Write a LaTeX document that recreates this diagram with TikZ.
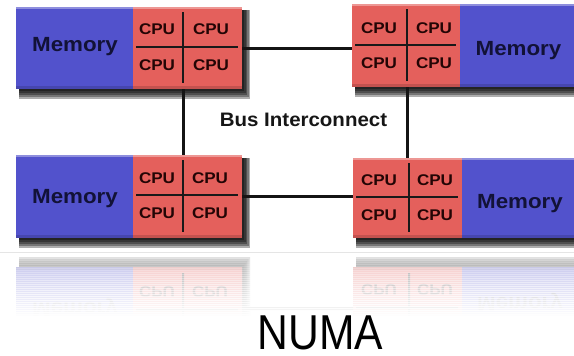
\documentclass[tikz,border=0pt]{standalone}
\usepackage{fontspec}
\setmainfont{Liberation Sans}
\usepackage{graphicx}
\usetikzlibrary{calc}
\definecolor{memblue}{RGB}{82,82,204}
\definecolor{cpured}{RGB}{228,96,92}
\definecolor{memtext}{RGB}{18,18,55}
\definecolor{cputext}{RGB}{35,5,5}
\definecolor{bustext}{RGB}{22,22,22}
\tikzset{
  memnode/.style={fill=memblue, draw=none, inner sep=0pt, outer sep=0pt, anchor=north west},
  cpunode/.style={fill=cpured, draw=none, inner sep=0pt, outer sep=0pt, anchor=north west},
  memtxt/.style={font=\bfseries\fontsize{20.5}{20.5}\selectfont, text=memtext, anchor=base, inner sep=0pt},
  cputxt/.style={font=\bfseries\fontsize{15.5}{15.5}\selectfont, text=cputext, anchor=center, inner sep=0pt},
  divline/.style={line width=2pt, draw=black!90},
  conn/.style={line width=3pt, draw=black!92},
}
\newcommand\memword{\scalebox{1.09}[1]{Memory}}
\newcommand\cpuw{\scalebox{1.1}[1]{CPU}}
\newcommand\shadowrect[4]{%
  \foreach \k in {0,...,4}{%
    \fill[black,opacity=0.32] ({#1+3},{#2+3}) rectangle ({#3+2+1.5*\k},{#4+2+2*\k});}}
\newcommand\bevel[2]{%
  \draw[white, opacity=0.35, line width=1.5pt] ($(#1.north west)+(0,0.75)$) -- ($(#2.north east)+(0,0.75)$);
  \fill[black, opacity=0.14] ($(#1.south west)+(0,-3)$) rectangle (#2.south east);}
\newcommand\dividers[2]{%
  \draw[divline] ($(#1.west |- #2)+(3,0)$) -- ($(#1.east |- #2)+(-4,0)$);
  \draw[divline] ($(#2 |- #1.north)+(0,5)$) -- ($(#2 |- #1.south)+(0,-6)$);}
\newcommand\drawBL[1]{%
  \shadowrect{16}{155}{242}{238}
  \node[memnode, minimum width=117pt, minimum height=83pt] (#1blmem) at (16,155) {};
  \node[cpunode, minimum width=109pt, minimum height=83pt] (#1blcpu) at (133,155) {};
  \bevel{#1blmem}{#1blcpu}
  \coordinate (#1blx) at (183,195);
  \dividers{#1blcpu}{#1blx}
  \node[memtxt] (#1blm) at (75,203) {\memword};
  \node[cputxt] (#1blca) at (157,178) {\cpuw};
  \node[cputxt] (#1blcb) at (210,178) {\cpuw};
  \node[cputxt] (#1blcc) at (157,213) {\cpuw};
  \node[cputxt] (#1blcd) at (210,213) {\cpuw};
}
\newcommand\drawBR[1]{%
  \shadowrect{353}{158}{574}{238}
  \node[cpunode, minimum width=109pt, minimum height=80pt] (#1brcpu) at (353,158) {};
  \node[memnode, minimum width=112pt, minimum height=80pt] (#1brmem) at (462,158) {};
  \bevel{#1brcpu}{#1brmem}
  \coordinate (#1brx) at (409,197);
  \dividers{#1brcpu}{#1brx}
  \node[memtxt] (#1brm) at (520,208) {\memword};
  \node[cputxt] (#1brca) at (379,180) {\cpuw};
  \node[cputxt] (#1brcb) at (435,180) {\cpuw};
  \node[cputxt] (#1brcc) at (379,215) {\cpuw};
  \node[cputxt] (#1brcd) at (435,215) {\cpuw};
}
\begin{document}
\begin{tikzpicture}[x=1pt, y=-1pt]
\fill[white] (0,0) rectangle (574,356);
\useasboundingbox (0,0) rectangle (574,356);

% reflection
\begin{scope}[shift={(0,505)}, yscale=-1, transform shape, transparency group, opacity=0.36]
  \drawBL{r}
  \drawBR{r}
  \draw[conn] (rblcpu.east) -- (rblcpu.east -| rbrcpu.west);
\end{scope}
\foreach \i in {0,...,31}{%
  \fill[white, opacity={\i/31}] (0,{254+2*\i}) rectangle (574,{256.6+2*\i});}
\fill[white] (0,317) rectangle (574,356);
\coordinate (floorL) at (0,252);
\coordinate (floorR) at (574,252);
\draw[black!10, line width=0.6pt] (floorL) -- (floorR);

% top-left block
\shadowrect{16}{7}{242}{89}
\node[memnode, minimum width=117pt, minimum height=82pt] (tlmem) at (16,7) {};
\node[cpunode, minimum width=109pt, minimum height=82pt] (tlcpu) at (133,7) {};
\bevel{tlmem}{tlcpu}
\coordinate (tlx) at (183,47);
\dividers{tlcpu}{tlx}
\node[memtxt] (tlm) at (75,51) {\memword};
\node[cputxt] (tlca) at (157,29) {\cpuw};
\node[cputxt] (tlcb) at (211,29) {\cpuw};
\node[cputxt] (tlcc) at (157,65) {\cpuw};
\node[cputxt] (tlcd) at (211,65) {\cpuw};

% top-right block
\shadowrect{352}{4}{574}{87}
\node[cpunode, minimum width=108pt, minimum height=83pt] (trcpu) at (352,4) {};
\node[memnode, minimum width=114pt, minimum height=83pt] (trmem) at (460,4) {};
\bevel{trcpu}{trmem}
\coordinate (trx) at (407,45);
\dividers{trcpu}{trx}
\node[memtxt] (trm) at (518.5,55) {\memword};
\node[cputxt] (trca) at (379,28) {\cpuw};
\node[cputxt] (trcb) at (434,28) {\cpuw};
\node[cputxt] (trcc) at (379,63) {\cpuw};
\node[cputxt] (trcd) at (434,63) {\cpuw};

% bottom blocks
\drawBL{}
\drawBR{}

% bus interconnect
\draw[conn] (tlcpu.east) -- (tlcpu.east -| trcpu.west);
\draw[conn] (blcpu.east) -- (blcpu.east -| brcpu.west);
\draw[conn] (tlx |- tlcpu.south) -- (tlx |- blcpu.north);
\draw[conn] (trx |- trcpu.south) -- (trx |- brcpu.north);
\node[font=\bfseries\fontsize{19.5}{19.5}\selectfont, text=bustext, anchor=base, inner sep=0pt] (bus) at (303.5,126) {\scalebox{1.05}[1]{Bus Interconnect}};

% title
\node[font=\fontsize{49}{49}\selectfont, anchor=base, inner sep=0pt] (numa) at (320.5,349) {\scalebox{0.87}[1]{NUMA}};
\end{tikzpicture}
\end{document}
